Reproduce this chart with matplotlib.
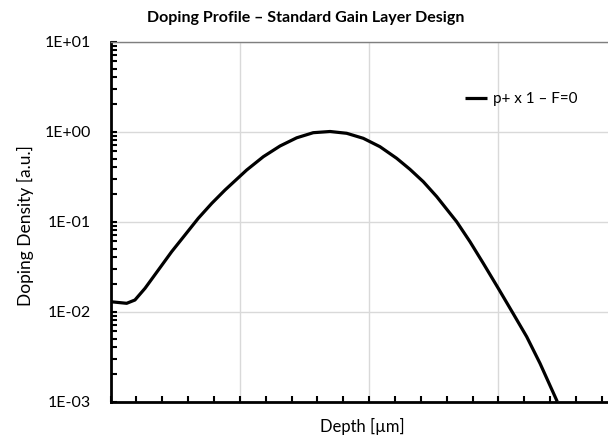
import matplotlib.pyplot as plt
import matplotlib.ticker as mticker
import numpy as np

# Depth (one unit per vertical gridline) and doping density
depth = [0.000, 0.125, 0.189, 0.267, 0.370, 0.473, 0.576, 0.679, 0.783, 0.886,
         1.053, 1.182, 1.311, 1.440, 1.568, 1.698, 1.827, 1.955, 2.084, 2.213,
         2.316, 2.419, 2.523, 2.626, 2.677, 2.780, 2.883, 2.999, 3.115, 3.219,
         3.322, 3.455]
density = [0.01285, 0.01233, 0.01342, 0.0181, 0.0289, 0.0462, 0.0708, 0.1086, 0.159, 0.224,
           0.373, 0.525, 0.690, 0.851, 0.970, 1.000, 0.955, 0.840, 0.678, 0.504,
           0.380, 0.277, 0.189, 0.123, 0.0995, 0.0597, 0.0343, 0.0181, 0.00944, 0.00524,
           0.00265, 0.00100]

y_ticks = [1e-3, 1e-2, 1e-1, 1e0, 1e1]
y_tick_labels = ['1E-03', '1E-02', '1E-01', '1E+00', '1E+01']

plt.rcParams['font.family'] = ['Lato', 'DejaVu Sans']

fig = plt.figure(figsize=(6.08, 4.42), dpi=100)
# axes runs slightly past the right edge, as in the reference
left, right, top, bottom = 110.5, 627.7, 41.5, 401.5
ax = fig.add_axes([left / 608, 1 - bottom / 442, (right - left) / 608, (bottom - top) / 442])

ax.plot(depth, density, color='black', linewidth=2.3, label='p+ x 1 \u2013 F=0',
        solid_capstyle='butt', solid_joinstyle='round')

ax.set_yscale('log')
ax.set_ylim(1e-3, 1e1)
ax.set_xlim(0, 4)

ax.set_yticks(y_ticks)
ax.set_yticklabels(y_tick_labels)
ax.yaxis.set_minor_locator(mticker.LogLocator(base=10, subs=np.arange(2, 10)))
ax.yaxis.set_minor_formatter(mticker.NullFormatter())

ax.xaxis.set_major_locator(mticker.MultipleLocator(1))
ax.xaxis.set_minor_locator(mticker.MultipleLocator(0.2))
ax.xaxis.set_major_formatter(mticker.NullFormatter())

ax.grid(True, which='major', color='#d9d9d9', linewidth=1)
ax.set_axisbelow(True)

ax.tick_params(axis='both', which='both', direction='in', width=1.5, color='black')
ax.tick_params(axis='y', which='major', length=4, labelsize=11.5, pad=14)
ax.tick_params(axis='y', which='minor', length=4)
ax.tick_params(axis='x', which='both', length=4)

ax.spines['left'].set_linewidth(2)
ax.spines['bottom'].set_linewidth(2)
ax.spines['right'].set_visible(False)
ax.spines['top'].set_color('#7f7f7f')
ax.spines['top'].set_linewidth(1)

ax.set_ylabel('Doping Density [a.u.]', fontsize=12.5)
ax.yaxis.set_label_coords((34 - left) / (right - left), 0.49)
ax.set_xlabel('Depth [\u00b5m]', fontsize=12)
ax.xaxis.set_label_coords((362 - left) / (right - left), -0.045)

fig.text(306 / 608, 1 - 18 / 442, 'Doping Profile \u2013 Standard Gain Layer Design',
         ha='center', va='center', fontsize=11.5, fontweight='bold')

ax.legend(loc='center left', bbox_to_anchor=(465 / 608, 1 - 99 / 442),
          bbox_transform=fig.transFigure, frameon=False, fontsize=11,
          handlelength=1.45, handletextpad=0.4, borderaxespad=0, borderpad=0)

fig.savefig('out.png', dpi=100)
